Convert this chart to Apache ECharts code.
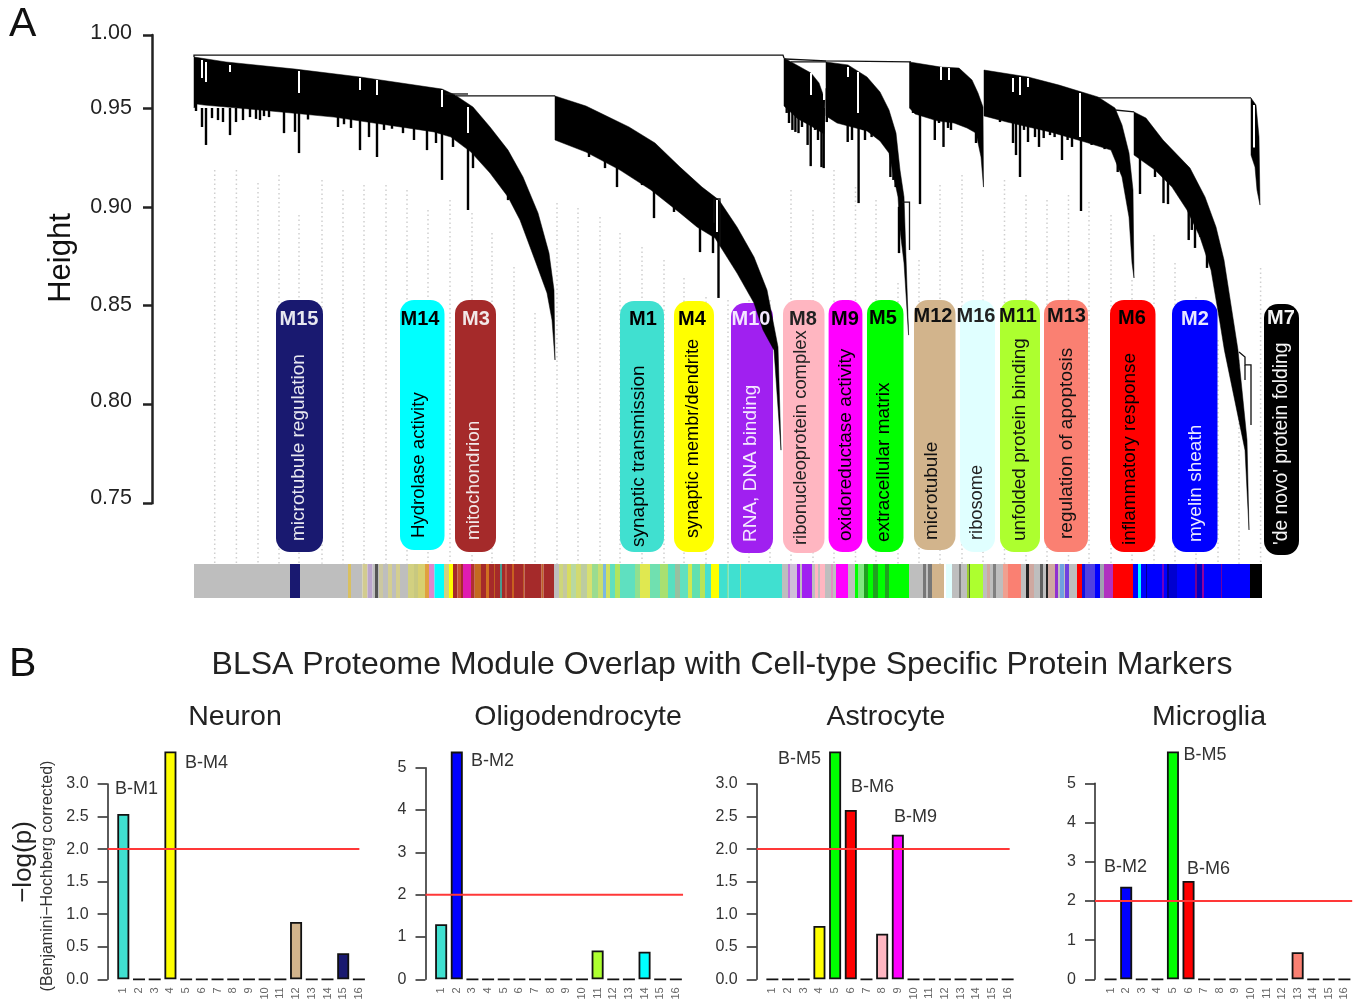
<!DOCTYPE html>
<html><head><meta charset="utf-8">
<style>html,body{margin:0;padding:0;background:#fff}#c{width:1363px;height:1005px}</style>
<script src="https://cdn.jsdelivr.net/npm/echarts@6/dist/echarts.min.js"></script>
</head><body><div id="c"></div>
<script>
// ---------- Panel A: dendrogram, x = protein order, y = tree height ----------
const branchA = [[194,.9758],[226,.9733],[295,.9697],[360,.9657],[442,.9596],[455,.9566],[473,.9505],[490,.9404],[508,.9287],[523,.9151],[538,.8969],[549,.8766],[554,.8579],[555,.8225],[552,.8427],[547,.8564],[536,.8716],[520,.8933],[508,.905],[490,.9171],[471,.9277],[451,.9353],[434,.9379],[334,.9454],[260,.949],[204,.9515],[197,.952],[194,.95]];
const branchB = [[555,.9561],[586,.951],[629,.9404],[655,.9323],[680,.9201],[702,.91],[719,.9034],[737,.8898],[754,.8746],[767,.8579],[778,.8291],[781,.7769],[774,.8275],[763,.8377],[754,.8513],[737,.8665],[715,.8842],[697,.8898],[680,.8969],[651,.9085],[620,.9186],[586,.9277],[555,.9338]];
const branchC = [[784,.9753],[793,.9728],[811,.9677],[819,.9627],[825,.954],[824,.9369],[811,.9409],[798,.9445],[784,.951]];
const branchD = [[826,.9733],[848,.9718],[867,.9657],[880,.9581],[889,.949],[896,.9373],[900,.9186],[904,.905],[908.6,.8351],[904,.8716],[900,.8883],[898,.905],[893,.9171],[889,.9272],[880,.9333],[867,.9384],[837,.9424],[826,.946]];
const branchE = [[909.5,.9733],[941,.9707],[959,.9702],[972,.9642],[978,.9576],[983,.9505],[983.5,.91],[981,.9252],[976,.9373],[967,.9399],[954,.9424],[937,.9435],[915,.947],[909.5,.95]];
const branchF = [[984,.9692],[1028,.9657],[1059,.9616],[1098,.9556],[1115,.95],[1122,.9414],[1129,.9272],[1133,.9085],[1134,.864],[1132,.8716],[1129,.8948],[1122,.9151],[1111,.9287],[1085,.9328],[1050,.9379],[1007,.9429],[984,.946]];
const branchG = [[1134,.948],[1146,.9449],[1163,.9338],[1190,.9196],[1205,.905],[1216,.8898],[1224,.8731],[1238,.8275],[1247,.782],[1249,.7365],[1245,.7769],[1224.4,.8275],[1220,.8412],[1211,.868],[1200,.8847],[1187,.8984],[1172,.91],[1155,.9186],[1134,.9262]];
const branchH = [[1251,.9551],[1256,.9515],[1259,.9353],[1260,.9009],[1257,.9085],[1255,.9201],[1251,.9262]];
const dendroBranches = [branchA,branchB,branchC,branchD,branchE,branchF,branchG,branchH];

// tree links (merges)
const dendroLinks = [
 [[194,.9758],[194,.9768],[783,.9768],[784,.9753]],
 [[785,.9748],[826,.9738],[911,.9733]],
 [[791,.9733],[826,.9733]],
 [[445,.9571],[468,.9571]],
 [[456,.9561],[555,.9561]],
 [[1098,.9551],[1251,.9551]],
 [[1115,.949],[1134,.948]],
 [[714,.892],[714,.904],[720,.904],[720,.88]],
 [[902,.9024],[909.5,.9024],[909.5,.8782]],
 [[1239,.8265],[1245,.824],[1245,.82],[1251,.82],[1251,.7896]],
 [[1245,.82],[1245,.8124]]
];
// singleton drops below the mass: x, from, to
const dendroSpikes = [
 [196,.955,.9485],[202,.95,.9404],[206,.95,.9313],[212,.95,.9449],[218,.95,.9439],[223,.95,.9429],[230,.95,.9363],[236,.95,.9429],[243,.95,.9439],[250,.95,.9454],[256,.95,.9445],[260,.95,.9439],[264,.95,.9459],[269,.95,.9454],[284,.95,.9373],[295,.95,.9379],[299,.95,.9272],[308,.95,.9442],[338,.95,.9404],[344,.95,.9418],[351,.95,.9399],[360,.945,.9287],[369,.945,.9353],[377,.945,.9252],[384,.945,.9389],[392,.945,.9395],[403,.945,.9373],[414,.945,.9338],[427,.945,.9287],[436,.945,.9323],[442,.945,.9136],[453,.945,.9303],[468,.94,.8984],[473,.94,.9196],[504,.915,.9085],[508,.91,.9034],
 [589,.94,.9252],[605,.93,.9196],[617,.925,.91],[642,.915,.911],[654,.91,.8943],[674,.90,.8974],[700,.90,.8771],[713,.89,.8766],[718.5,.8873,.8539],
 [786.7,.96,.9475],[789,.96,.9424],[792.4,.96,.9389],[795.4,.96,.9379],[798.5,.955,.9373],[802,.955,.9404],[805.4,.955,.9439],[807.6,.955,.9313],[810.7,.955,.9206],[815,.95,.9389],[818,.95,.9338],[821.5,.95,.9201],[823.7,.95,.9196],[826.8,.96,.9429],
 [830.3,.96,.95],[833.3,.96,.9465],[836.8,.96,.9449],[841,.96,.9424],[847.7,.96,.9328],[852,.96,.9338],[858.6,.96,.9019],[863,.95,.9389],[865,.95,.9338],[868,.95,.9399],[871.6,.95,.9353],[874.7,.95,.9404],[878,.945,.9363],[881,.945,.9353],[884.7,.945,.9313],[890.4,.935,.9151],[893.4,.93,.9136],[895.6,.925,.91],[899,.90,.8766],
 [913,.96,.9475],[920,.96,.9014],[926,.96,.949],[930.4,.96,.9454],[934.8,.96,.9338],[939,.96,.9424],[943.5,.96,.9303],[948,.96,.9399],[951,.96,.9389],[954.4,.96,.9429],[963,.955,.9439],[967.5,.955,.9424],[972,.955,.9404],[976,.945,.9323],
 [1000,.955,.9429],[1006.7,.955,.9444],[1013,.955,.9323],[1016,.955,.9262],[1020,.955,.9151],[1024,.955,.9389],[1028,.95,.9328],[1035,.95,.9353],[1039,.95,.9303],[1043.7,.95,.9348],[1050,.95,.9363],[1054.6,.95,.9353],[1062,.945,.9237],[1067.6,.945,.9338],[1072,.945,.9303],[1081,.94,.8979],[1087,.94,.9328],[1091.6,.94,.9313],[1104.6,.94,.9292],[1117.7,.935,.9176],
 [1140,.94,.9065],[1155,.925,.9151],[1163.5,.925,.9019],[1168,.92,.9014],[1188.7,.90,.8832],[1191.8,.90,.8883],[1195,.895,.8792],[1200.5,.89,.8847],[1207,.885,.8691],[1222,.86,.8417]
];
// pale gaps inside the mass: x, from, to
const dendroGaps = [
 [202,.9743,.9652],[206,.9733,.9632],[230,.9718,.9682],[299,.9687,.9576],[360,.9652,.9591],[377,.9642,.9566],[442,.9591,.9505],[468,.9505,.9373],
 [717,.9034,.8873],[811,.9677,.9566],[824,.9601,.954],[848,.9707,.9657],[858,.9682,.9475],[941,.9707,.9642],[949,.9702,.9642],[1013,.9652,.9581],[1020,.9657,.9566],[1028,.9652,.9606],[1080,.9576,.9353],[1254,.9515,.93]
];
// pale dotted guides: x, top height
const guideLines = [[214.7,.9186],[236.4,.9186],[258,.912],[279,.9161],[299,.8959],[322,.9136],[343,.9085],[364,.911],[386,.911],[407,.9085],[428,.8984],[450,.9034],[472,.8969],[492,.8867],[514,.8695],[535,.8463],[557,.9019],[578,.8994],[600,.8948],[620,.8867],[642,.8797],[664,.8731],[684,.864],[706,.8544],[728,.8528],[749,.8528],[770,.8528],[791,.9085],[813,.8984],[834,.9186],[855.5,.91],[876,.9034],[898,.8614],[919,.8731],[940,.911],[962,.9161],[983,.8781],[1004.5,.9136],[1026,.906],[1047,.9034],[1068.5,.906],[1089,.9024],[1111,.8959],[1132,.863],[1154,.8857],[1175,.8716],[1196,.8544],[1218,.8326],[1239,.8225],[1260.6,.869]];
const guideFloor = .7194;

// Height axis
const heightTicks = [.75,.80,.85,.90,.95,.98694];
const heightTickLabels = ['{a|0.75}','{b|0.80}','{c|0.85}','{d|0.90}','{d|0.95}','{e|1.00}'];

// module colour strip: segment start and colour
const G='#BEBEBE',BR='#A52A2A',TQ='#40E0D0',PU='#A020F0',PK='#FFB6C1',LG='#00FF00',DG='#20A020',BL='#0000FF';
const stripSegments = [[194,G],[290,'#191970'],[300,G],[348,'#D9C060'],[351,G],[362.5,'#D2CB90'],[367.5,'#BBA5CC'],[372.5,G],[375,'#555555'],[378,G],[379,'#CCC8A0'],[383,G],[388,'#D4CE90'],[392,G],[396,'#D4CE90'],[400,G],[408,'#D2D080'],[414,'#C8C880'],[418,'#D8D070'],[425,'#E0A040'],[429,'#DD88CC'],[434.5,'#00FFFF'],[444,'#D2D080'],[449,'#FFFF00'],[453,BR],[457.5,'#C85030'],[461,BR],[463,'#E01CB0'],[471,'#B03030'],[474.7,'#C46A20'],[481,BR],[486,'#D07020'],[489,BR],[494,'#C06020'],[495,BR],[500,'#4A9A90'],[502,BR],[505,'#C05040'],[507,BR],[512,'#C86020'],[514,BR],[523,'#BE5A28'],[524.5,BR],[541.6,'#C06428'],[543.5,BR],[554,G],[559,'#CED67A'],[563,'#C4C8A0'],[567,'#D8DC60'],[571,'#B8D8A0'],[576,'#D2DA70'],[581,'#BCCCA0'],[587,'#D8E070'],[592,'#9ADC90'],[598,'#C8DE70'],[603,'#7BB8E0'],[606,'#D0E060'],[610,'#60DFC0'],[615,'#B0E460'],[620,'#5FE0C0'],[635,'#90E090'],[640,'#E0E850'],[650,'#70E0B0'],[660,'#A8E070'],[668,'#58DFC0'],[675,'#98C0A0'],[680,'#60E0C0'],[688,'#D0E850'],[692,'#60E0B0'],[700,'#B8E458'],[705,'#48DFD0'],[711,'#FFFF00'],[719,TQ],[727,'#80DFA0'],[728.5,TQ],[740,'#A0E080'],[741,TQ],
 [782,G],[788,'#C070E0'],[790,'#CFC0D8'],[797,PU],[800,G],[802,PU],[812,G],[815,PK],[818,G],[820,PK],[825,G],[831,'#E090C0'],[833,G],[836,'#FF00FF'],[848,G],[855,LG],[858,'#7FE87F'],[864,DG],[868,LG],[873,DG],[878,LG],[885,DG],[889,LG],[909,G],[923,'#777777'],[926,G],[928,'#777777'],[932,'#D2B48C'],[944,'#FFFFFF'],[946,'#E0FFFF'],[952,G],[959,'#808080'],[961,G],[967,'#9ACD32'],[969,'#556B2F'],[970,'#ADFF2F'],[983,G],[987,'#CFA8A0'],[990,G],[993,'#808080'],[996,G],[1003,'#F0A090'],[1008,'#FA8072'],[1021,G],[1026,'#222222'],[1029,'#CFA8A0'],[1034,G],[1040,'#606060'],[1043,G],[1046,'#222222'],[1048,'#CFA8A0'],[1055,'#9030D0'],[1058,G],[1060,'#6FA0E0'],[1064,G],[1065,'#7040E0'],[1069,G],[1077,'#FF0000'],[1082,'#1010E0'],[1085,'#5040E0'],[1095,BL],[1100,'#A0A0B0'],[1104,'#B030C0'],[1113,'#FF0000'],[1133,BL],[1138,'#00FFFF'],[1141,BL],[1146,'#000090'],[1147,BL],[1162,'#7000C0'],[1164,BL],[1167,'#000090'],[1169,'#0000D0'],[1177,BL],[1195,'#700090'],[1197,'#0000C0'],[1202,'#9000A0'],[1204,BL],[1221,'#7000A0'],[1222,BL],[1250,'#000000']];
const stripEnd = 1262;

// module labels
const moduleNames = ['M15','M14','M3','M1','M4','M10','M8','M9','M5','M12','M16','M11','M13','M6','M2','M7'];
const moduleTerms = ['microtubule regulation','Hydrolase activity','mitochondrion','synaptic transmission','synaptic membr/dendrite','RNA, DNA binding','ribonucleoprotein complex','oxidoreductase activity','extracellular matrix','microtubule','ribosome','unfolded protein binding','regulation of apoptosis','inflammatory response','myelin sheath',"'de novo' protein folding"];

// ---------- Panel B ----------
const moduleNumbers = [1,2,3,4,5,6,7,8,9,10,11,12,13,14,15,16];
const moduleColours = ['#40E0D0','#0000FF','#A52A2A','#FFFF00','#00FF00','#FF0000','#000000','#FFB6C1','#FF00FF','#A020F0','#ADFF2F','#D2B48C','#FA8072','#00FFFF','#191970','#E0FFFF'];
const neuronValues   = [2.54,0,0,3.5,0,0,0,0,0,0,0,.88,0,0,.40,0];
const oligoValues    = [1.30,5.38,0,0,0,0,0,0,0,0,.68,0,0,.65,0,0];
const astroValues    = [0,0,0,.82,3.5,2.60,0,.70,2.22,0,0,0,0,0,0,0];
const microValues    = [0,2.36,0,0,5.81,2.51,0,0,0,0,0,0,.69,0,0,0];
const panelTitles = ['Neuron','Oligodendrocyte','Astrocyte','Microglia'];
const significanceLevel = 2;

// ---------- layout ----------
const FONT = '"Liberation Sans", Arial, sans-serif';
const boxes = [ // x0,x1,y0,y1, fill, ink, header x,y, term x,bottom, term size
 [276,323,300,552,'#191970','#E8E8F0',299,318,299,541,19],
 [400,444.5,300,550,'#00FFFF','#000',420,318,419,538,18.6],
 [455,496,300,552,'#A52A2A','#F2E8E8',476,318,474,540,19],
 [620,664,301,552,'#40E0D0','#000',643,318,639,547,19],
 [674,714,301,552,'#FFFF00','#000',692,318,693,538,18.2],
 [731,773,303,553,'#A020F0','#F4E8FF',751,318,751,542,19],
 [783,824.5,300,553,'#FFB6C1','#222',803,318,801,545,18.4],
 [828.6,862.4,300,552,'#FF00FF','#000',845,318,846,541,19],
 [867,903.5,300,552,'#00FF00','#000',883,317,884,542,19],
 [914,955.5,300,550,'#D2B48C','#111',933,315,932,540,19],
 [960,995,300,552,'#E0FFFF','#222',976,315,977,540,18.3],
 [1000,1040,300,552,'#ADFF2F','#111',1018,315,1020,541,19],
 [1044,1088,300,552,'#FA8072','#111',1066.5,315,1066.5,539,19],
 [1110,1155.5,300,552,'#FF0000','#000',1132,317,1130,545,19],
 [1172,1217.5,300,552,'#0000FF','#E8E8FF',1195,318,1196,542,19],
 [1264,1299,304,555,'#000000','#F4F4F4',1281,317,1282,545,19.3]
];
const graphic = [];
boxes.forEach((b,i)=>{
  graphic.push({type:'rect',z:1,shape:{x:b[0],y:b[2],width:b[1]-b[0],height:b[3]-b[2],r:14},style:{fill:b[4]}});
  graphic.push({type:'text',z:4,x:b[6],y:b[7]+1,style:{text:moduleNames[i],fill:b[5],font:'bold 20px '+FONT,textAlign:'center',textVerticalAlign:'middle'}});
  graphic.push({type:'text',z:4,x:b[8],y:b[9],rotation:Math.PI/2,style:{text:moduleTerms[i],fill:b[5],font:b[10]+'px '+FONT,textAlign:'left',textVerticalAlign:'middle'}});
});
function txt(text,x,y,size,opt){opt=opt||{};return {type:'text',z:4,x:x,y:y,rotation:opt.rot||0,style:{text:text,fill:opt.fill||'#222',font:size+'px '+FONT,textAlign:opt.align||'left',textVerticalAlign:'middle'}};}
graphic.push(txt('A',9,25,41,{fill:'#111'}));
graphic.push(txt('B',9,665,41,{fill:'#111'}));
graphic.push(txt('Height',61,258,31,{rot:Math.PI/2,align:'center',fill:'#111'}));
graphic.push(txt('\u2212log(p)',24,862,26,{rot:Math.PI/2,align:'center'}));
graphic.push(txt('(Benjamini\u2212Hochberg corrected)',48,876,16,{rot:Math.PI/2,align:'center',fill:'#333'}));
[['B-M1',115,789],['B-M4',185,763],['B-M2',471,761],['B-M5',778,759],['B-M6',851,787],['B-M9',894,817],['B-M2',1104,867],['B-M5',1183.5,755],['B-M6',1187,869]]
 .forEach(l=>graphic.push(txt(l[0],l[1],l[2],18,{fill:'#333'})));

const titleList = [{text:'BLSA Proteome Module Overlap with Cell-type Specific Protein Markers',left:717,top:644,textAlign:'center',textStyle:{fontFamily:FONT,fontWeight:'normal',fontSize:32,color:'#222'}}];
[[230,698],[573,698],[881,698],[1204,698]].forEach((p,i)=>titleList.push({text:panelTitles[i],left:p[0],top:p[1],textAlign:'center',textStyle:{fontFamily:FONT,fontWeight:'normal',fontSize:28.5,color:'#222'}}));

const grids = [
 {left:194,top:35,width:1068,height:468.3},
 {left:194,top:564,width:1068,height:34},
 {left:107.6,top:784,width:267,height:195.3},
 {left:425.5,top:767.7,width:266,height:211.6},
 {left:756.7,top:784,width:266.6,height:195.3},
 {left:1095,top:783.3,width:265,height:196}
];
const xAxes = [
 {gridIndex:0,type:'value',min:194,max:1262,show:false},
 {gridIndex:1,type:'value',min:194,max:1262,show:false}
];
const tickInk = {fontFamily:FONT,fontSize:21.5,color:'#222'};
const yAxes = [
 {gridIndex:0,type:'value',min:.75,max:.98694,offset:42,splitLine:{show:false},
  axisLine:{show:true,lineStyle:{color:'#222',width:2.5}},
  axisTick:{show:true,length:9,customValues:heightTicks,lineStyle:{color:'#222',width:2.5}},
  axisLabel:{customValues:heightTicks,margin:20,...tickInk,
    rich:{a:{...tickInk,padding:[0,0,11,0]},b:{...tickInk,padding:[0,0,6,0]},c:{...tickInk,padding:[0,0,2,0]},d:{...tickInk},e:{...tickInk,padding:[0,0,4,0]}},
    formatter:v=>heightTickLabels[heightTicks.indexOf(v)]}},
 {gridIndex:1,type:'value',min:0,max:1,show:false}
];
[[3,.5,1],[5,1,0],[3,.5,1],[5,1,0]].forEach((a,i)=>{
  xAxes.push({gridIndex:i+2,type:'value',min:0,max:17,interval:1,splitLine:{show:false},axisLine:{show:false},axisTick:{show:false},
    axisLabel:{rotate:90,margin:8,fontFamily:FONT,fontSize:11,color:'#666',showMinLabel:false,showMaxLabel:false,formatter:v=>moduleNumbers.includes(v)?String(v):''}});
  yAxes.push({gridIndex:i+2,type:'value',min:0,max:a[0],interval:a[1],splitLine:{show:false},
    axisLine:{show:true,lineStyle:{color:'#333',width:1.6}},
    axisTick:{show:true,length:10,lineStyle:{color:'#333',width:1.6}},
    axisLabel:{margin:19,fontFamily:FONT,fontSize:16,color:'#333',formatter:v=>v.toFixed(a[2])}});
});

function lineRender(width,color,dash,getSeg){
  return function(params,api){
    const s=getSeg(params.dataIndex);
    return {type:'polyline',shape:{points:s.map(p=>api.coord(p))},style:{stroke:color,fill:null,lineWidth:width,lineDash:dash||null}};
  };
}
const series = [
 {type:'custom',name:'guides',xAxisIndex:0,yAxisIndex:0,z:0,silent:true,data:guideLines,
  renderItem:lineRender(1.5,'#CFCFCF',[1.5,3],i=>[[guideLines[i][0],guideLines[i][1]],[guideLines[i][0],guideFloor]])},
 {type:'custom',name:'mass',xAxisIndex:0,yAxisIndex:0,z:3,silent:true,data:dendroBranches.map(b=>b[0]),
  renderItem:(params,api)=>({type:'polygon',shape:{points:dendroBranches[params.dataIndex].map(p=>api.coord(p))},style:{fill:'#000',stroke:'#000',lineWidth:.5}})},
 {type:'custom',name:'spikes',xAxisIndex:0,yAxisIndex:0,z:3,silent:true,data:dendroSpikes.map(g=>[g[0],g[1]]),
  renderItem:lineRender(2.4,'#000',null,i=>[[dendroSpikes[i][0],dendroSpikes[i][1]],[dendroSpikes[i][0],dendroSpikes[i][2]]])},
 {type:'custom',name:'gaps',xAxisIndex:0,yAxisIndex:0,z:4,silent:true,data:dendroGaps.map(g=>[g[0],g[1]]),
  renderItem:lineRender(2,'#FFFFFF',null,i=>[[dendroGaps[i][0],dendroGaps[i][1]],[dendroGaps[i][0],dendroGaps[i][2]]])},
 {type:'custom',name:'links',xAxisIndex:0,yAxisIndex:0,z:3,silent:true,data:dendroLinks.map(l=>l[0]),
  renderItem:lineRender(1.3,'#111',null,i=>dendroLinks[i])},
 {type:'custom',name:'strip',xAxisIndex:1,yAxisIndex:1,z:2,silent:true,data:stripSegments.map((s,i)=>[s[0],i<stripSegments.length-1?stripSegments[i+1][0]:stripEnd]),
  renderItem:(params,api)=>{
    const a=api.coord([api.value(0),1]),b=api.coord([api.value(1),0]);
    return {type:'rect',shape:{x:a[0],y:a[1],width:b[0]-a[0],height:b[1]-a[1]},style:{fill:stripSegments[params.dataIndex][1]}};
  }}
];
[[neuronValues,16.03],[oligoValues,16.46],[astroValues,16.13],[microValues,16.5]].forEach((p,i)=>{
  series.push({type:'bar',xAxisIndex:i+2,yAxisIndex:i+2,barWidth:12,clip:false,silent:true,z:2,
    data:p[0].map((v,k)=>({value:[moduleNumbers[k],v],itemStyle:{color:moduleColours[k],borderColor:'#111',borderWidth:1.8}}))});
  series.push({type:'line',xAxisIndex:i+2,yAxisIndex:i+2,symbol:'none',silent:true,z:5,clip:false,
    lineStyle:{color:'#FF3838',width:2},data:[[0,significanceLevel],[p[1],significanceLevel]]});
});

const chart = echarts.init(document.getElementById('c'),null,{renderer:'canvas'});
chart.setOption({animation:false,backgroundColor:'#fff',tooltip:{show:false},title:titleList,grid:grids,xAxis:xAxes,yAxis:yAxes,series:series,graphic:{elements:graphic}});
</script></body></html>
